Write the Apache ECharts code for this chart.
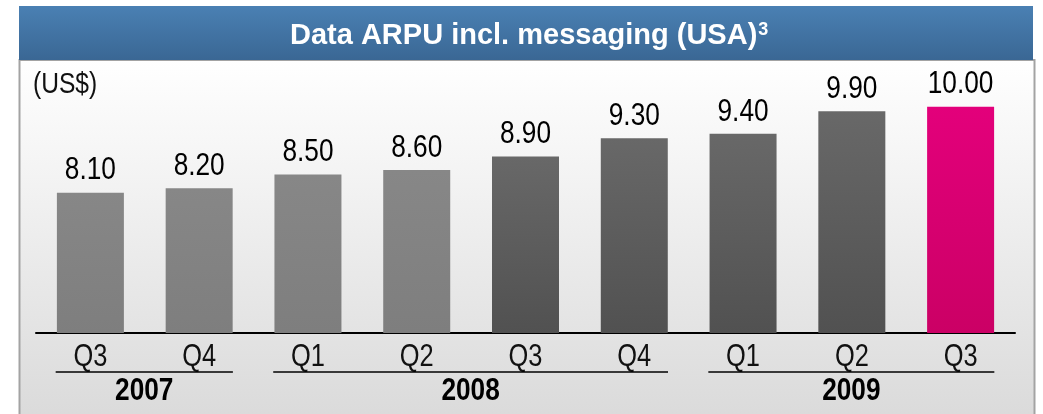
<!DOCTYPE html>
<html>
<head>
<meta charset="utf-8">
<script src="https://cdn.jsdelivr.net/npm/echarts@6/dist/echarts.min.js"></script>
<style>
  html, body { margin: 0; padding: 0; background: #ffffff; }
  #chart { width: 1043px; height: 414px; }
</style>
</head>
<body>
<div id="chart"></div>
<script>
// quarters on the x axis (year prefix keeps them unique)
var quarters = ["2007 Q3", "2007 Q4", "2008 Q1", "2008 Q2", "2008 Q3", "2008 Q4", "2009 Q1", "2009 Q2", "2009 Q3"];
var arpu = [8.10, 8.20, 8.50, 8.60, 8.90, 9.30, 9.40, 9.90, 10.00];
// which colour each bar gets
var barTone = ["light", "light", "light", "light", "dark", "dark", "dark", "dark", "highlight"];
// year groups under the quarters
var years = ["2007", "2008", "2009"];
var yearStart = [0, 2, 6];
var yearEnd = [1, 5, 8];

var yMin = 5;
var yMax = 10.5;
// no condensed font installed, so squeeze Liberation Sans horizontally
var sans = "'Liberation Sans', Arial, sans-serif";
var squeeze = 0.82;

var tones = {
  light: new echarts.graphic.LinearGradient(0, 0, 0, 1, [
    { offset: 0, color: "#878787" }, { offset: 1, color: "#7e7e7e" }
  ]),
  dark: new echarts.graphic.LinearGradient(0, 0, 0, 1, [
    { offset: 0, color: "#686868" }, { offset: 1, color: "#515151" }
  ]),
  highlight: new echarts.graphic.LinearGradient(0, 0, 0, 1, [
    { offset: 0, color: "#e3007b" }, { offset: 1, color: "#cb0065" }
  ])
};

var barData = arpu.map(function (v, i) {
  return { value: v, itemStyle: { color: tones[barTone[i]] } };
});

var labelData = arpu.map(function (v, i) {
  return [i, v, yMin];
});

var groupData = years.map(function (y, i) {
  return [yearStart[i], yearEnd[i], yMin];
});

function narrowText(x, y, text, font, color, vAlign) {
  return {
    type: "text",
    x: x,
    y: y,
    scaleX: squeeze,
    style: { text: text, fill: color, font: font, align: "center", verticalAlign: vAlign }
  };
}

var myChart = echarts.init(document.getElementById("chart"));
var option = {
  animation: false,
  backgroundColor: "#ffffff",
  title: {
    text: "{t|Data ARPU incl. messaging (USA)}{sup|3}",
    left: 285,
    top: 16,
    textStyle: {
      rich: {
        t: { color: "#ffffff", fontSize: 29, fontWeight: "bold", fontFamily: sans },
        sup: { color: "#ffffff", fontSize: 18, fontWeight: "bold", fontFamily: sans, verticalAlign: "top", padding: [0, 0, 12, 1] }
      }
    }
  },
  graphic: [
    {
      type: "rect",
      z: -10,
      shape: { x: 19.5, y: 60, width: 1015, height: 370 },
      style: {
        fill: new echarts.graphic.LinearGradient(0, 0, 0, 1, [
          { offset: 0, color: "#ffffff" }, { offset: 1, color: "#d9d9d9" }
        ]),
        stroke: "#a3a3a3",
        lineWidth: 2
      }
    },
    {
      type: "rect",
      z: -9,
      shape: { x: 19, y: 6, width: 1014, height: 54 },
      style: {
        fill: new echarts.graphic.LinearGradient(0, 0, 0, 1, [
          { offset: 0, color: "#4a80b3" }, { offset: 1, color: "#3a6794" }
        ])
      }
    },
    {
      type: "text",
      x: 33,
      y: 70,
      scaleX: squeeze,
      style: { text: "(US$)", fill: "#111111", font: "30px " + sans }
    }
  ],
  grid: { left: 36, right: 28, top: 84, bottom: 81 },
  xAxis: {
    type: "category",
    data: quarters,
    axisLine: { lineStyle: { color: "#000000", width: 2 } },
    axisTick: { show: false },
    axisLabel: { show: false }
  },
  yAxis: {
    type: "value",
    min: yMin,
    max: yMax,
    show: false,
    splitLine: { show: false }
  },
  series: [
    {
      type: "bar",
      data: barData,
      barWidth: 67
    },
    {
      // value above each bar and quarter name below the axis
      type: "custom",
      data: labelData,
      encode: { x: 0, y: 1 },
      clip: false,
      silent: true,
      renderItem: function (params, api) {
        var top = api.coord([api.value(0), api.value(1)]);
        var base = api.coord([api.value(0), api.value(2)]);
        var q = quarters[params.dataIndex].split(" ")[1];
        return {
          type: "group",
          children: [
            narrowText(top[0], top[1] - 6, api.value(1).toFixed(2), "32px " + sans, "#000000", "bottom"),
            narrowText(base[0], base[1] + 24, q, "31px " + sans, "#111111", "middle")
          ]
        };
      }
    },
    {
      // year brackets under the quarters
      type: "custom",
      data: groupData,
      encode: { x: [0, 1], y: 2 },
      clip: false,
      silent: true,
      renderItem: function (params, api) {
        var s = api.coord([api.value(0), api.value(2)]);
        var e = api.coord([api.value(1), api.value(2)]);
        var half = api.size([1, 0])[0] * 0.31;
        var x0 = s[0] - half - 1;
        var x1 = e[0] + half;
        return {
          type: "group",
          children: [
            {
              type: "line",
              shape: { x1: x0, y1: s[1] + 39, x2: x1, y2: s[1] + 39 },
              style: { stroke: "#000000", lineWidth: 1.5 }
            },
            narrowText((x0 + x1) / 2, s[1] + 58, years[params.dataIndex], "bold 32px " + sans, "#000000", "middle")
          ]
        };
      }
    }
  ]
};
myChart.setOption(option);
</script>
</body>
</html>
